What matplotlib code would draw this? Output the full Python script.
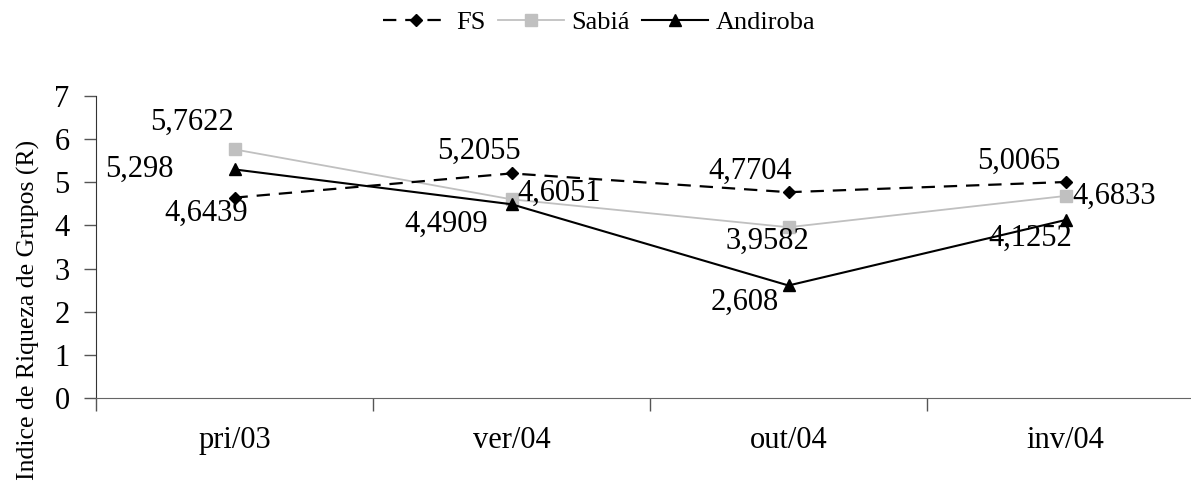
import matplotlib.pyplot as plt
from matplotlib.lines import Line2D

plt.rcParams["font.family"] = ["Liberation Serif", "DejaVu Serif"]

# estações de coleta
categorias = ["pri/03", "ver/04", "out/04", "inv/04"]

fs = [4.6439, 5.2055, 4.7704, 5.0065]
sabia = [5.7622, 4.6051, 3.9582, 4.6833]
andiroba = [5.298, 4.4909, 2.608, 4.1252]

rotulos_fs = ["4,6439", "5,2055", "4,7704", "5,0065"]
rotulos_sabia = ["5,7622", "4,6051", "3,9582", "4,6833"]
rotulos_andiroba = ["5,298", "4,4909", "2,608", "4,1252"]

# deslocamento dos rótulos em pixels (dx, dy)
desl_fs = [(-28, -16), (-33, 22), (-38, 21), (-47, 21)]
desl_sabia = [(-43, 27), (48, 6), (-21, -14), (49, 0)]
desl_andiroba = [(-95, 0), (-65, -20), (-44, -17), (-35, -18)]

fig = plt.figure(figsize=(11.91, 4.83), dpi=100)
W, H = 1191, 483
ax = fig.add_axes([96 / W, (H - 398) / H, (1204 - 96) / W, 302 / H])

x = list(range(len(categorias)))

ax.plot(x, fs, color="black", lw=1.6, ls=(0, (6, 4)), marker="D",
        markersize=6.5, label="FS", zorder=3)
ax.plot(x, sabia, color="#c0c0c0", lw=1.3, marker="s", markersize=8.5,
        label="Sabiá", zorder=2)
ax.plot(x, andiroba, color="black", lw=1.5, marker="^", markersize=9,
        label="Andiroba", zorder=4)

for serie, rot, desl in [(fs, rotulos_fs, desl_fs),
                         (sabia, rotulos_sabia, desl_sabia),
                         (andiroba, rotulos_andiroba, desl_andiroba)]:
    for xi, yi, t, d in zip(x, serie, rot, desl):
        ax.annotate(t, (xi, yi), xytext=d, textcoords="offset pixels",
                    ha="center", va="center", fontsize=22, zorder=5)

ax.set_xlim(-0.5, 3.5)
ax.set_ylim(0, 7)
ax.set_yticks(range(0, 8))
ax.set_xticks([-0.5, 0.5, 1.5, 2.5, 3.5])
ax.set_xticklabels([])
ax.set_xticks(x, minor=True)
ax.set_xticklabels(categorias, minor=True)
ax.tick_params(axis="x", which="minor", length=0, labelsize=22, pad=20)
ax.tick_params(axis="x", which="major", length=9, width=1, color="#555555")
ax.tick_params(axis="y", length=9, width=1, labelsize=22, pad=10,
               color="#555555")

ax.spines["top"].set_visible(False)
ax.spines["right"].set_visible(False)
ax.spines["left"].set_color("#333333")
ax.spines["bottom"].set_color("#666666")

fig.text(28 / W, 1 - 310 / H, "Indice de Riqueza de Grupos (R)",
         rotation=90, ha="center", va="center", fontsize=18.5)

handles = [
    Line2D([], [], color="black", lw=1.6, ls=(0, (6, 4)), marker="D",
           markersize=6.5),
    Line2D([], [], color="#c0c0c0", lw=1.3, marker="s", markersize=8.5),
    Line2D([], [], color="black", lw=1.5, marker="^", markersize=9),
]
fig.legend(handles, ["FS", "Sabiá", "Andiroba"], loc="center",
           bbox_to_anchor=(599 / W, 1 - 22 / H), ncol=3, frameon=False,
           fontsize=19, handlelength=2.5, handletextpad=0.3,
           columnspacing=0.45)

fig.savefig("out.png", dpi=100)
